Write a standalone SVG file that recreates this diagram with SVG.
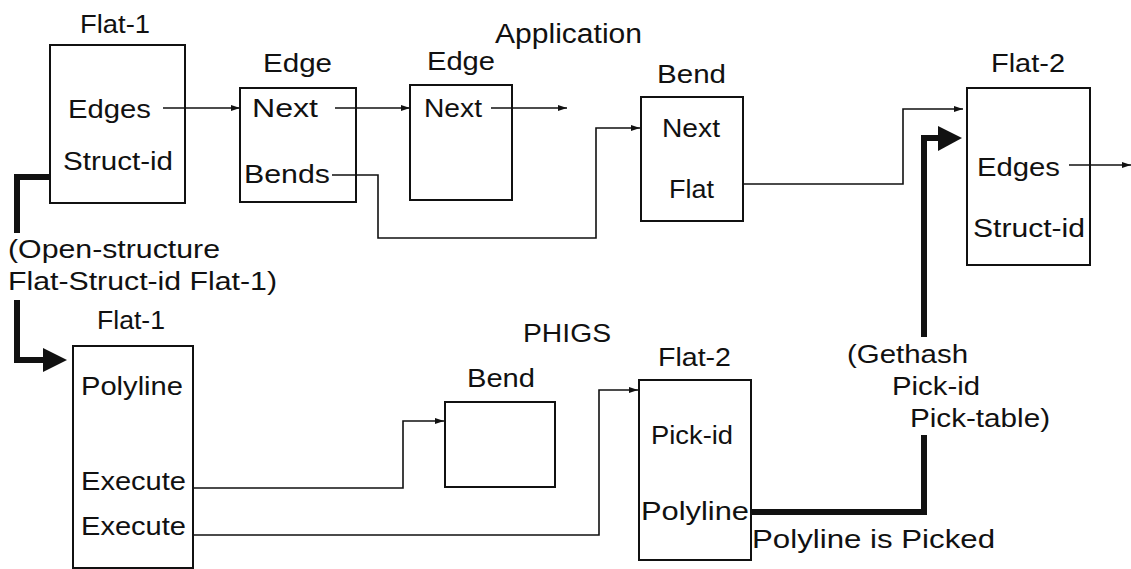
<svg xmlns="http://www.w3.org/2000/svg" width="1131" height="569" viewBox="0 0 1131 569">
<style>
.box{fill:none;stroke:#111;stroke-width:2}
.t{font-family:"Liberation Sans",Arial,sans-serif;font-size:25px;fill:#111}
.thin{fill:none;stroke:#111;stroke-width:1.6}
.thick{fill:none;stroke:#111;stroke-width:6;stroke-linejoin:miter}
</style>
<defs>
<marker id="ah" markerWidth="10" markerHeight="8" refX="9" refY="4" orient="auto" markerUnits="userSpaceOnUse">
<path d="M0,1 L9,4 L0,7 Z" fill="#111"/>
</marker>
</defs>
<rect width="1131" height="569" fill="#fff"/>
<text class="t" x="495" y="43" textLength="147" lengthAdjust="spacingAndGlyphs" style="font-size:27px">Application</text>
<text class="t" x="523" y="342" textLength="88" lengthAdjust="spacingAndGlyphs">PHIGS</text>
<g id="flat1-top">
<rect class="box" x="50" y="45" width="135" height="158"/>
<text class="t" x="80" y="33" textLength="70" lengthAdjust="spacingAndGlyphs">Flat-1</text>
<text class="t" x="68" y="118" textLength="83" lengthAdjust="spacingAndGlyphs">Edges</text>
<text class="t" x="63" y="170" textLength="110" lengthAdjust="spacingAndGlyphs">Struct-id</text>
</g>
<g id="edge1">
<rect class="box" x="240" y="88" width="116" height="114"/>
<text class="t" x="263" y="72" textLength="69" lengthAdjust="spacingAndGlyphs">Edge</text>
<text class="t" x="252" y="117" textLength="66" lengthAdjust="spacingAndGlyphs">Next</text>
<text class="t" x="244" y="183" textLength="86" lengthAdjust="spacingAndGlyphs">Bends</text>
</g>
<g id="edge2">
<rect class="box" x="410" y="85" width="102" height="115"/>
<text class="t" x="427" y="70" textLength="68" lengthAdjust="spacingAndGlyphs">Edge</text>
<text class="t" x="424" y="117" textLength="58" lengthAdjust="spacingAndGlyphs">Next</text>
</g>
<g id="bend-top">
<rect class="box" x="641" y="97" width="102" height="124"/>
<text class="t" x="657" y="83" textLength="69" lengthAdjust="spacingAndGlyphs">Bend</text>
<text class="t" x="662" y="137" textLength="58" lengthAdjust="spacingAndGlyphs">Next</text>
<text class="t" x="669" y="198" textLength="45" lengthAdjust="spacingAndGlyphs">Flat</text>
</g>
<g id="flat2-top">
<rect class="box" x="967" y="88" width="123" height="177"/>
<text class="t" x="991" y="72" textLength="74" lengthAdjust="spacingAndGlyphs">Flat-2</text>
<text class="t" x="977" y="176" textLength="83" lengthAdjust="spacingAndGlyphs">Edges</text>
<text class="t" x="973" y="237" textLength="112" lengthAdjust="spacingAndGlyphs">Struct-id</text>
</g>
<g id="flat1-bottom">
<rect class="box" x="73" y="346" width="120" height="222"/>
<text class="t" x="97" y="329" textLength="68" lengthAdjust="spacingAndGlyphs">Flat-1</text>
<text class="t" x="81" y="395" textLength="102" lengthAdjust="spacingAndGlyphs">Polyline</text>
<text class="t" x="81" y="490" textLength="105" lengthAdjust="spacingAndGlyphs">Execute</text>
<text class="t" x="81" y="535" textLength="105" lengthAdjust="spacingAndGlyphs">Execute</text>
</g>
<g id="bend-bottom">
<rect class="box" x="445" y="402" width="110" height="85"/>
<text class="t" x="467" y="387" textLength="68" lengthAdjust="spacingAndGlyphs">Bend</text>
</g>
<g id="flat2-bottom">
<rect class="box" x="639" y="380" width="112" height="180"/>
<text class="t" x="658" y="366" textLength="73" lengthAdjust="spacingAndGlyphs">Flat-2</text>
<text class="t" x="651" y="444" textLength="82" lengthAdjust="spacingAndGlyphs">Pick-id</text>
<text class="t" x="641" y="520" textLength="108" lengthAdjust="spacingAndGlyphs">Polyline</text>
</g>
<g id="connectors">
<line class="thin" x1="163" y1="108" x2="240" y2="108" marker-end="url(#ah)"/>
<line class="thin" x1="335" y1="108" x2="410" y2="108" marker-end="url(#ah)"/>
<line class="thin" x1="491" y1="108" x2="567" y2="108" marker-end="url(#ah)"/>
<polyline class="thin" points="332,175 378,175 378,238 596,238 596,128 640,128" marker-end="url(#ah)"/>
<polyline class="thin" points="743,184 903,184 903,109 963,109" marker-end="url(#ah)"/>
<line class="thin" x1="1069" y1="165" x2="1131" y2="165" marker-end="url(#ah)"/>
<polyline class="thin" points="194,488 403,488 403,421 444,421" marker-end="url(#ah)"/>
<polyline class="thin" points="194,535 599,535 599,390 638,390" marker-end="url(#ah)"/>
<polyline class="thick" points="50,177 17,177 17,233"/>
<polyline class="thick" points="17,300 17,360 45,360"/>
<path d="M43,348 L67,360 L43,372 Z" fill="#111"/>
<polyline class="thick" points="751,512 924,512 924,435"/>
<polyline class="thick" points="924,337 924,138 940,138"/>
<path d="M938,126 L962,138 L938,151 Z" fill="#111"/>
<text class="t" x="8" y="258" textLength="212" lengthAdjust="spacingAndGlyphs">(Open-structure</text>
<text class="t" x="8" y="290" textLength="269" lengthAdjust="spacingAndGlyphs">Flat-Struct-id Flat-1)</text>
<text class="t" x="847" y="363" textLength="121" lengthAdjust="spacingAndGlyphs">(Gethash</text>
<text class="t" x="892" y="395" textLength="88" lengthAdjust="spacingAndGlyphs">Pick-id</text>
<text class="t" x="910" y="427" textLength="140" lengthAdjust="spacingAndGlyphs">Pick-table)</text>
<text class="t" x="752" y="548" textLength="243" lengthAdjust="spacingAndGlyphs">Polyline is Picked</text>
</g>
</svg>
